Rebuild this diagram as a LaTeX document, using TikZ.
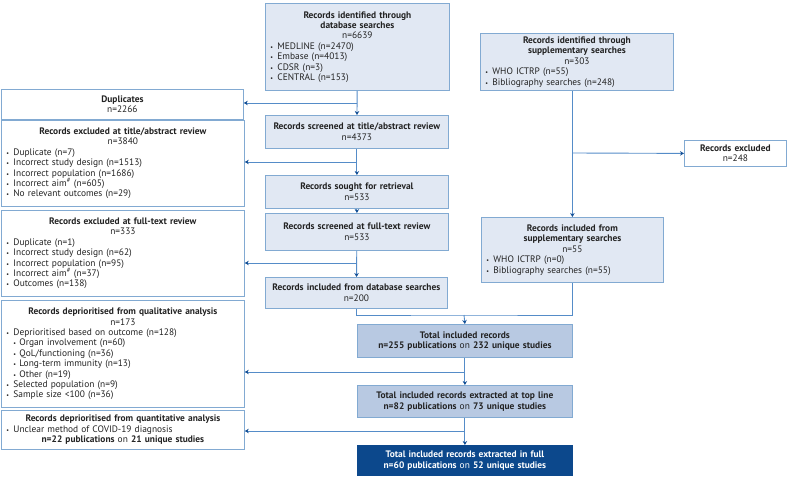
\documentclass[tikz,border=0pt]{standalone}
\usepackage{fontspec}
\setmainfont{PT Sans}
\usetikzlibrary{arrows.meta}
\definecolor{boxfill}{RGB}{225,232,243}
\definecolor{boxline}{RGB}{130,170,210}
\definecolor{linkblue}{RGB}{85,140,200}
\definecolor{tipblue}{RGB}{20,80,150}
\definecolor{totalfill}{RGB}{184,201,226}
\definecolor{fullfill}{RGB}{12,72,140}
\definecolor{txt}{RGB}{35,35,35}
\tikzstyle{box} = [draw=boxline, fill=boxfill, line width=0.8pt, anchor=north west, inner xsep=5pt, inner ysep=0pt, align=left, text=txt, font=\fontsize{9.4}{10.4}\selectfont]
\tikzstyle{sidebox} = [box, fill=white]
\tikzstyle{totalbox} = [box, fill=totalfill]
\tikzstyle{fullbox} = [box, fill=fullfill, draw=fullfill, text=white]
\tikzstyle{linkline} = [draw=linkblue, line width=0.9pt]
\tikzstyle{arrow} = [linkline,->,>={Stealth[length=4pt,width=4.5pt,color=tipblue]}]
\tikzset{boxsize/.code 2 args={\pgfmathsetmacro\bw{#1-10}\tikzset{minimum width=#1pt,text width=\bw pt,minimum height=#2pt}}}
\newcommand{\itm}[1]{\noindent\makebox[7pt][l]{\fontsize{6}{6}\selectfont\textbullet}#1\par}
\newcommand{\subitm}[1]{\noindent\hspace*{7pt}\makebox[6pt][l]{\fontsize{6}{6}\selectfont\textbullet}#1\par}
\newcommand{\ttl}[1]{{\centering #1\par}}

\begin{document}
\begin{tikzpicture}[x=1pt,y=-1pt]
\useasboundingbox (0,0) rectangle (787,478);

% main column
\node[box, boxsize={184}{87}] (dbsearch) at (265,3) {\ttl{\textbf{Records identified through}\par\textbf{database searches}\par n=6639}
\itm{MEDLINE (n=2470)}\itm{Embase (n=4013)}\itm{CDSR (n=3)}\itm{CENTRAL (n=153)}};
\node[box, boxsize={183}{33}] (screenta) at (265,115) {\ttl{\textbf{Records screened at title/abstract review}\par n=4373}};
\node[box, boxsize={183}{33}] (sought) at (265,175) {\ttl{\textbf{Records sought for retrieval}\par n=533}};
\node[box, boxsize={183}{37}] (screenft) at (265,213) {\ttl{\textbf{Records screened at full-text review}\par n=533}};
\node[box, boxsize={182}{31}] (incdb) at (265,277) {\ttl{\textbf{Records included from database searches}\par n=200}};

% supplementary column
\node[box, boxsize={193}{57}] (suppsearch) at (480,33) {\ttl{\textbf{Records identified through}\par\textbf{supplementary searches}\par n=303}
\itm{WHO ICTRP (n=55)}\itm{Bibliography searches (n=248)}};
\node[sidebox, boxsize={102}{26}] (excsupp) at (684,140) {\ttl{\textbf{Records excluded}\par n=248}};
\node[box, boxsize={182}{65}] (incsupp) at (481,217) {\ttl{\textbf{Records included from}\par\textbf{supplementary searches}\par n=55}
\itm{WHO ICTRP (n=0)}\itm{Bibliography searches (n=55)}};

% totals
\node[totalbox, boxsize={215}{33}] (total) at (357,324) {\ttl{\textbf{Total included records}\par\textbf{n=255 publications} on \textbf{232 unique studies}}};
\node[totalbox, boxsize={215}{32}] (topline) at (357,385) {\ttl{\textbf{Total included records extracted at top line}\par\textbf{n=82 publications} on \textbf{73 unique studies}}};
\node[fullbox, boxsize={215}{30}] (full) at (357,445) {\ttl{\textbf{Total included records extracted in full}\par\textbf{n=60 publications} on \textbf{52 unique studies}}};

% exclusions on the left
\node[sidebox, boxsize={242}{30}] (dup) at (1,89) {\ttl{\textbf{Duplicates}\par n=2266}};
\node[sidebox, boxsize={243}{86}] (excta) at (1,120) {\ttl{\textbf{Records excluded at title/abstract review}\par n=3840}
\itm{Duplicate (n=7)}\itm{Incorrect study design (n=1513)}\itm{Incorrect population (n=1686)}\itm{Incorrect aim\textsuperscript{\#} (n=605)}\itm{No relevant outcomes (n=29)}};
\node[sidebox, boxsize={243}{86}] (excft) at (1,210) {\ttl{\textbf{Records excluded at full-text review}\par n=333}
\itm{Duplicate (n=1)}\itm{Incorrect study design (n=62)}\itm{Incorrect population (n=95)}\itm{Incorrect aim\textsuperscript{\#} (n=37)}\itm{Outcomes (n=138)}};
\node[sidebox, boxsize={243}{107}] (qual) at (1,300) {\ttl{\textbf{Records deprioritised from qualitative analysis}\par n=173}
\itm{Deprioritised based on outcome (n=128)}\subitm{Organ involvement (n=60)}\subitm{QoL/functioning (n=36)}\subitm{Long-term immunity (n=13)}\subitm{Other (n=19)}\itm{Selected population (n=9)}\itm{Sample size <100 (n=36)}};
\node[sidebox, boxsize={243}{39}] (quant) at (1,410) {\ttl{\textbf{Records deprioritised from quantitative analysis}}
\itm{Unclear method of COVID-19 diagnosis}\ttl{\textbf{n=22 publications} on \textbf{21 unique studies}}};

% connectors
\draw[arrow] (dbsearch) -- (screenta);
\coordinate (b1) at (357,103);
\draw[arrow] (b1) -- (b1 -| dup.east);
\draw[arrow] (screenta) -- (sought);
\coordinate (b2) at (357,162);
\draw[arrow] (b2) -- (b2 -| excta.east);
\draw[arrow] (sought) -- (screenft);
\draw[arrow] (screenft) -- (incdb);
\coordinate (b3) at (357,263);
\draw[arrow] (b3) -- (b3 -| excft.east);

\draw[arrow] (suppsearch.south -| incsupp.north) -- (incsupp.north);
\coordinate (b4) at (572,153);
\draw[arrow] (b4) -- (excsupp.west);

\coordinate (j) at (464,315);
\draw[linkline] (incdb.south) |- (j) -| (incsupp.south);
\draw[arrow] (j) -- (total.north);
\draw[arrow] (total) -- (topline);
\coordinate (b5) at (464,372);
\draw[arrow] (b5) -- (b5 -| qual.east);
\draw[arrow] (topline) -- (full);
\coordinate (b6) at (464,431);
\draw[arrow] (b6) -- (b6 -| quant.east);
\end{tikzpicture}
\end{document}
